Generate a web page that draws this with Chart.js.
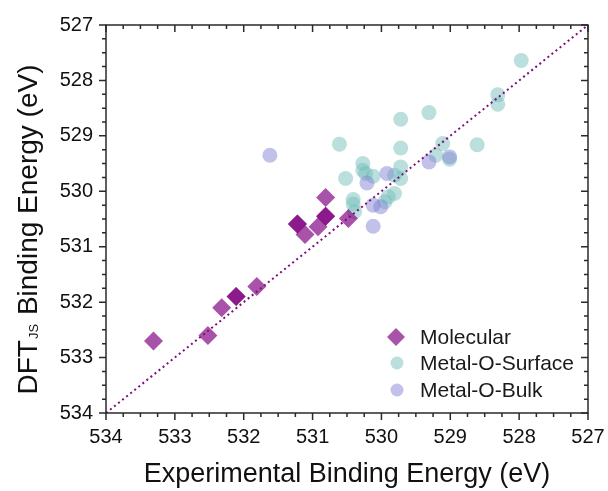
<!DOCTYPE html>
<html>
<head>
<meta charset="utf-8">
<script src="https://cdn.jsdelivr.net/npm/chart.js@4.4.0/dist/chart.umd.min.js"></script>
<style>
  html, body { margin: 0; padding: 0; background: #fff; }
  #wrap { width: 608px; height: 491px; }
</style>
</head>
<body>
<div id="wrap"><canvas id="chart" width="608" height="491"></canvas></div>
<script>
// Experimental vs DFT O1s binding energies (eV)
const molecularExp = [533.31, 532.52, 532.32, 532.11, 532.11, 531.81, 531.22, 531.22, 531.11, 530.92, 530.81, 530.81, 530.81, 530.48];
const molecularDft = [532.70, 532.60, 532.10, 531.90, 531.90, 531.72, 530.59, 530.59, 530.78, 530.64, 530.45, 530.45, 530.11, 530.49];

const surfaceExp = [527.97, 528.31, 528.31, 529.31, 529.72, 530.61, 529.72, 528.61, 529.11, 529.21, 529.01, 530.27, 530.27, 530.23, 530.12, 529.72, 529.72, 529.81, 530.52, 530.41, 530.41, 530.39, 529.81, 529.90, 529.95];
const surfaceDft = [527.64, 528.26, 528.43, 528.58, 528.70, 529.15, 529.22, 529.16, 529.14, 529.35, 529.42, 529.50, 529.62, 529.68, 529.73, 529.56, 529.77, 529.71, 529.77, 530.15, 530.23, 530.37, 530.04, 530.10, 530.19];

const bulkExp = [531.62, 529.92, 530.21, 529.31, 529.01, 530.12, 530.01, 530.12];
const bulkDft = [529.35, 529.68, 529.85, 529.47, 529.38, 530.25, 530.28, 530.63];

const parityLine = [534, 527];
const axisMin = 527;
const axisMax = 534;
const seriesNames = ['Molecular', 'Metal-O-Surface', 'Metal-O-Bulk'];

const toPoints = (xs, ys) => xs.map((x, i) => ({ x: x, y: ys[i] }));

const molColor = 'rgba(128, 0, 128, 0.68)';
const surfColor = 'rgba(112, 188, 183, 0.48)';
const bulkColor = 'rgba(125, 125, 210, 0.48)';
const frameColor = '#2a2a2a';
const font = '"Liberation Sans", Arial, sans-serif';

// frame, minor/major ticks, axis titles and legend
const decorations = {
  id: 'decorations',
  afterDraw(chart) {
    const { ctx, chartArea: a, scales: { x, y } } = chart;
    ctx.save();
    ctx.strokeStyle = frameColor;
    ctx.lineWidth = 1.5;
    ctx.strokeRect(a.left, a.top, a.right - a.left, a.bottom - a.top);

    for (let v = axisMin; v <= axisMax + 1e-9; v += 0.25) {
      const major = Math.abs(v - Math.round(v)) < 1e-6;
      const len = major ? 7 : 4;
      const px = x.getPixelForValue(v);
      const py = y.getPixelForValue(v);
      ctx.beginPath();
      // bottom (outward) and top (inward)
      ctx.moveTo(px, a.bottom); ctx.lineTo(px, a.bottom + len);
      ctx.moveTo(px, a.top); ctx.lineTo(px, a.top + len);
      // left (outward) and right (inward)
      ctx.moveTo(a.left, py); ctx.lineTo(a.left - len, py);
      ctx.moveTo(a.right, py); ctx.lineTo(a.right - len, py);
      ctx.stroke();
    }

    // axis titles
    ctx.fillStyle = '#111';
    ctx.textBaseline = 'middle';
    ctx.textAlign = 'center';
    ctx.font = '27px ' + font;
    ctx.fillText('Experimental Binding Energy (eV)', (a.left + a.right) / 2, 475);

    ctx.save();
    ctx.translate(37, 230);
    ctx.rotate(-Math.PI / 2);
    ctx.textBaseline = 'alphabetic';
    const big = '28px ' + font;
    const small = '13px ' + font;
    ctx.font = big;
    const w1 = ctx.measureText('DFT').width;
    const w3 = ctx.measureText(' Binding Energy (eV)').width;
    ctx.font = small;
    const w2 = ctx.measureText('JS').width + 1;
    let sx = -(w1 + w2 + w3) / 2;
    ctx.textAlign = 'left';
    ctx.font = big;
    ctx.fillText('DFT', sx, 0);
    sx += w1 + 1;
    ctx.font = small;
    ctx.fillText('JS', sx, 1);
    sx += w2;
    ctx.font = big;
    ctx.fillText(' Binding Energy (eV)', sx, 0);
    ctx.restore();

    // legend inside plot
    const lx = 396, ly = [337, 363, 390];
    ctx.font = '21px ' + font;
    ctx.textAlign = 'left';
    ctx.fillStyle = molColor;
    ctx.beginPath();
    ctx.moveTo(lx - 9, ly[0]); ctx.lineTo(lx, ly[0] - 9);
    ctx.lineTo(lx + 9, ly[0]); ctx.lineTo(lx, ly[0] + 9);
    ctx.closePath(); ctx.fill();
    ctx.fillStyle = surfColor;
    ctx.beginPath(); ctx.arc(lx + 1, ly[1], 6.5, 0, Math.PI * 2); ctx.fill();
    ctx.fillStyle = bulkColor;
    ctx.beginPath(); ctx.arc(lx + 1, ly[2], 6.5, 0, Math.PI * 2); ctx.fill();
    ctx.fillStyle = '#1a1a1a';
    seriesNames.forEach((n, i) => ctx.fillText(n, 420, ly[i] + 1));
    ctx.restore();
  }
};

new Chart(document.getElementById('chart'), {
  type: 'scatter',
  data: {
    datasets: [
      {
        type: 'line',
        label: 'parity',
        data: toPoints(parityLine, parityLine),
        borderColor: '#7a0f7a',
        borderWidth: 2,
        borderDash: [2, 3.2],
        pointRadius: 0,
        fill: false,
        order: 0
      },
      {
        label: seriesNames[0],
        data: toPoints(molecularExp, molecularDft),
        pointStyle: 'rectRot',
        pointRadius: 9.5,
        pointHoverRadius: 9.5,
        backgroundColor: molColor,
        borderWidth: 0,
        order: 1
      },
      {
        label: seriesNames[1],
        data: toPoints(surfaceExp, surfaceDft),
        pointStyle: 'circle',
        pointRadius: 7.5,
        backgroundColor: surfColor,
        borderWidth: 0,
        order: 3
      },
      {
        label: seriesNames[2],
        data: toPoints(bulkExp, bulkDft),
        pointStyle: 'circle',
        pointRadius: 7.5,
        backgroundColor: bulkColor,
        borderWidth: 0,
        order: 2
      }
    ]
  },
  options: {
    responsive: false,
    animation: false,
    layout: { padding: { top: 25, right: 20, left: 0, bottom: 0 } },
    plugins: { legend: { display: false }, tooltip: { enabled: false } },
    scales: {
      x: {
        type: 'linear',
        reverse: true,
        min: axisMin,
        max: axisMax,
        grid: { display: false, drawTicks: false },
        border: { display: false },
        afterFit(scale) {
          scale.height = 78;
          scale.paddingLeft = 0;
          scale.paddingRight = 0;
        },
        ticks: {
          stepSize: 0.25,
          autoSkip: false,
          maxRotation: 0,
          padding: 12,
          color: '#111',
          font: { family: font, size: 20 },
          callback: v => Number.isInteger(v) ? String(v) : ''
        }
      },
      y: {
        type: 'linear',
        reverse: true,
        min: axisMin,
        max: axisMax,
        grid: { display: false, drawTicks: false },
        border: { display: false },
        afterFit(scale) {
          scale.width = 106;
          scale.paddingTop = 0;
          scale.paddingBottom = 0;
        },
        ticks: {
          stepSize: 0.25,
          autoSkip: false,
          padding: 13,
          color: '#111',
          font: { family: font, size: 20 },
          callback: v => Number.isInteger(v) ? String(v) : ''
        }
      }
    }
  },
  plugins: [decorations]
});
</script>
</body>
</html>
